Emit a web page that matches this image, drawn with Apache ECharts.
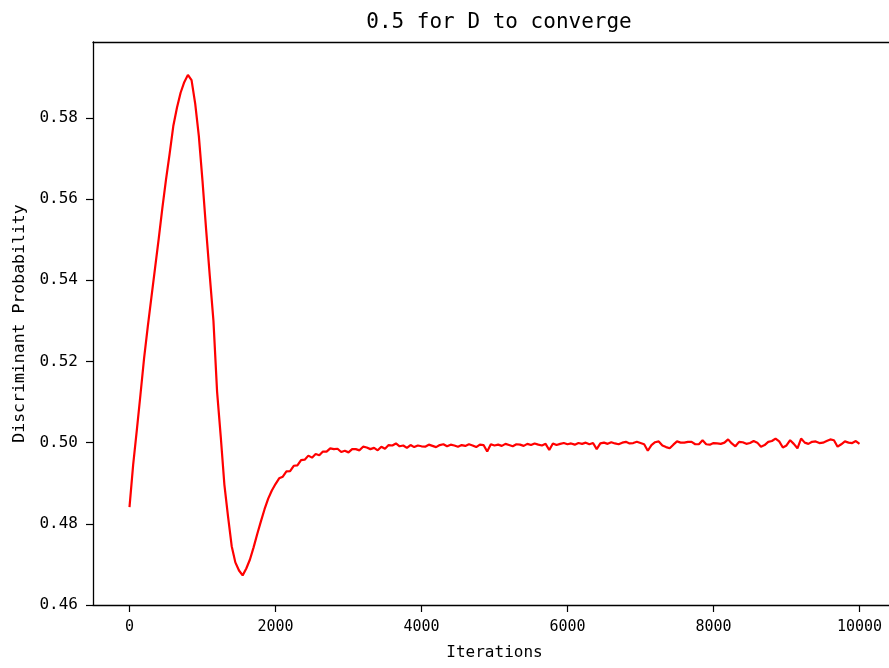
<!DOCTYPE html>
<html>
<head>
<meta charset="utf-8">
<script src="https://cdn.jsdelivr.net/npm/echarts@6/dist/echarts.min.js"></script>
<style>html,body{margin:0;padding:0;background:#fff;}#main{width:889px;height:668px;}</style>
</head>
<body>
<div id="main"></div>
<script>
const STEP = 50;
const probability = [
  0.4841, 0.4945, 0.5030, 0.5118, 0.5208, 0.5285, 0.5358, 0.5430, 0.5502, 0.5578,
  0.5648, 0.5712, 0.5780, 0.5825, 0.5862, 0.5888, 0.5906, 0.5893, 0.5835, 0.5755,
  0.5645, 0.5524, 0.5410, 0.5300, 0.5125, 0.5015, 0.4896, 0.4818, 0.4745, 0.4705,
  0.4685, 0.4673, 0.4690, 0.4712, 0.4742, 0.4775, 0.4806, 0.4836, 0.4862, 0.4882,
  0.4898, 0.4912, 0.4916, 0.4929, 0.4930, 0.4943, 0.4944, 0.4957, 0.4958, 0.4968,
  0.4963, 0.4972, 0.4969, 0.4978, 0.4978, 0.4986, 0.4984, 0.4985, 0.4977, 0.4980,
  0.4976, 0.4984, 0.4984, 0.4981, 0.4990, 0.4988, 0.4984, 0.4987, 0.4981, 0.4990,
  0.4985, 0.4994, 0.4993, 0.4998, 0.4991, 0.4993, 0.4987, 0.4994, 0.4989, 0.4993,
  0.4991, 0.4990, 0.4995, 0.4992, 0.4989, 0.4994, 0.4996, 0.4991, 0.4995, 0.4993,
  0.4990, 0.4994, 0.4992, 0.4996, 0.4993, 0.4989, 0.4995, 0.4994, 0.4978, 0.4996,
  0.4993, 0.4995, 0.4992, 0.4997, 0.4994, 0.4991, 0.4996, 0.4995, 0.4992, 0.4997,
  0.4994, 0.4998, 0.4995, 0.4993, 0.4997, 0.4982, 0.4998, 0.4994, 0.4997, 0.4999,
  0.4996, 0.4998, 0.4995, 0.4999, 0.4997, 0.5000, 0.4996, 0.4999, 0.4984, 0.4998,
  0.5000, 0.4997, 0.5001, 0.4998, 0.4996, 0.5000, 0.5002, 0.4998, 0.4999, 0.5002,
  0.4999, 0.4996, 0.4980, 0.4994, 0.5001, 0.5003, 0.4993, 0.4989, 0.4986, 0.4995,
  0.5003, 0.5000, 0.5000, 0.5002, 0.5002, 0.4996, 0.4996, 0.5006, 0.4996, 0.4995,
  0.4999, 0.4998, 0.4997, 0.5000, 0.5008, 0.4998, 0.4991, 0.5002, 0.5001, 0.4997,
  0.4999, 0.5004, 0.5000, 0.4990, 0.4994, 0.5002, 0.5004, 0.5010, 0.5003, 0.4988,
  0.4993, 0.5006, 0.4997, 0.4986, 0.5010, 0.5000, 0.4997, 0.5002, 0.5003, 0.4999,
  0.5000, 0.5004, 0.5008, 0.5006, 0.4990, 0.4996, 0.5003, 0.5000, 0.4999, 0.5004,
  0.4997
];
const iterations = probability.map((_, i) => i * STEP);
const xTicks = [0, 2000, 4000, 6000, 8000, 10000];
const yTicks = [0.46, 0.48, 0.50, 0.52, 0.54, 0.56, 0.58];

const titleText = '0.5 for D to converge';
const xName = 'Iterations';
const yName = 'Discriminant Probability';

const FONT = '"DejaVu Sans Mono", "Liberation Mono", monospace';
const chart = echarts.init(document.getElementById('main'), null, {renderer: 'canvas'});
chart.setOption({
  animation: false,
  backgroundColor: '#ffffff',
  title: {
    text: titleText,
    left: 494,
    top: 7,
    textAlign: 'center',
    textStyle: {fontFamily: FONT, fontSize: 21, fontWeight: 'normal', color: '#000'}
  },
  grid: {
    left: 93, top: 42, right: -7, bottom: 63,
    show: false,
    containLabel: false, outerBoundsMode: 'none'
  },
  xAxis: [{
    type: 'value',
    min: -500, max: 10500,
    name: xName, nameLocation: 'middle', nameGap: 40,
    nameTextStyle: {fontFamily: FONT, fontSize: 16, color: '#000'},
    axisLine: {show: true, onZero: false, lineStyle: {color: '#000', width: 1.3}},
    axisTick: {show: true, length: 7, customValues: xTicks, lineStyle: {color: '#000', width: 1.2}},
    axisLabel: {customValues: xTicks, margin: 15, fontFamily: FONT, fontSize: 15, color: '#000',
      formatter: v => String(v)},
    splitLine: {show: false}
  }, {
    type: 'value',
    position: 'top',
    min: -500, max: 10500,
    axisLine: {show: true, onZero: false, lineStyle: {color: '#000', width: 1.3}},
    axisTick: {show: false},
    axisLabel: {show: false},
    splitLine: {show: false}
  }],
  yAxis: {
    type: 'value',
    min: 0.46, max: 0.5987,
    name: yName, nameLocation: 'middle', nameGap: 64, nameRotate: 90,
    nameTextStyle: {fontFamily: FONT, fontSize: 16.5, color: '#000'},
    axisLine: {show: true, onZero: false, lineStyle: {color: '#000', width: 1.3}},
    axisTick: {show: true, length: 7, customValues: yTicks, lineStyle: {color: '#000', width: 1.2}},
    axisLabel: {customValues: yTicks, margin: 15, fontFamily: FONT, fontSize: 16, color: '#000',
      formatter: v => v.toFixed(2)},
    splitLine: {show: false}
  },
  series: [{
    type: 'line',
    xAxisIndex: 0,
    data: iterations.map((x, i) => [x, probability[i]]),
    showSymbol: false,
    lineStyle: {color: '#ff0000', width: 2.2},
    itemStyle: {color: '#ff0000'}
  }]
});
</script>
</body>
</html>
